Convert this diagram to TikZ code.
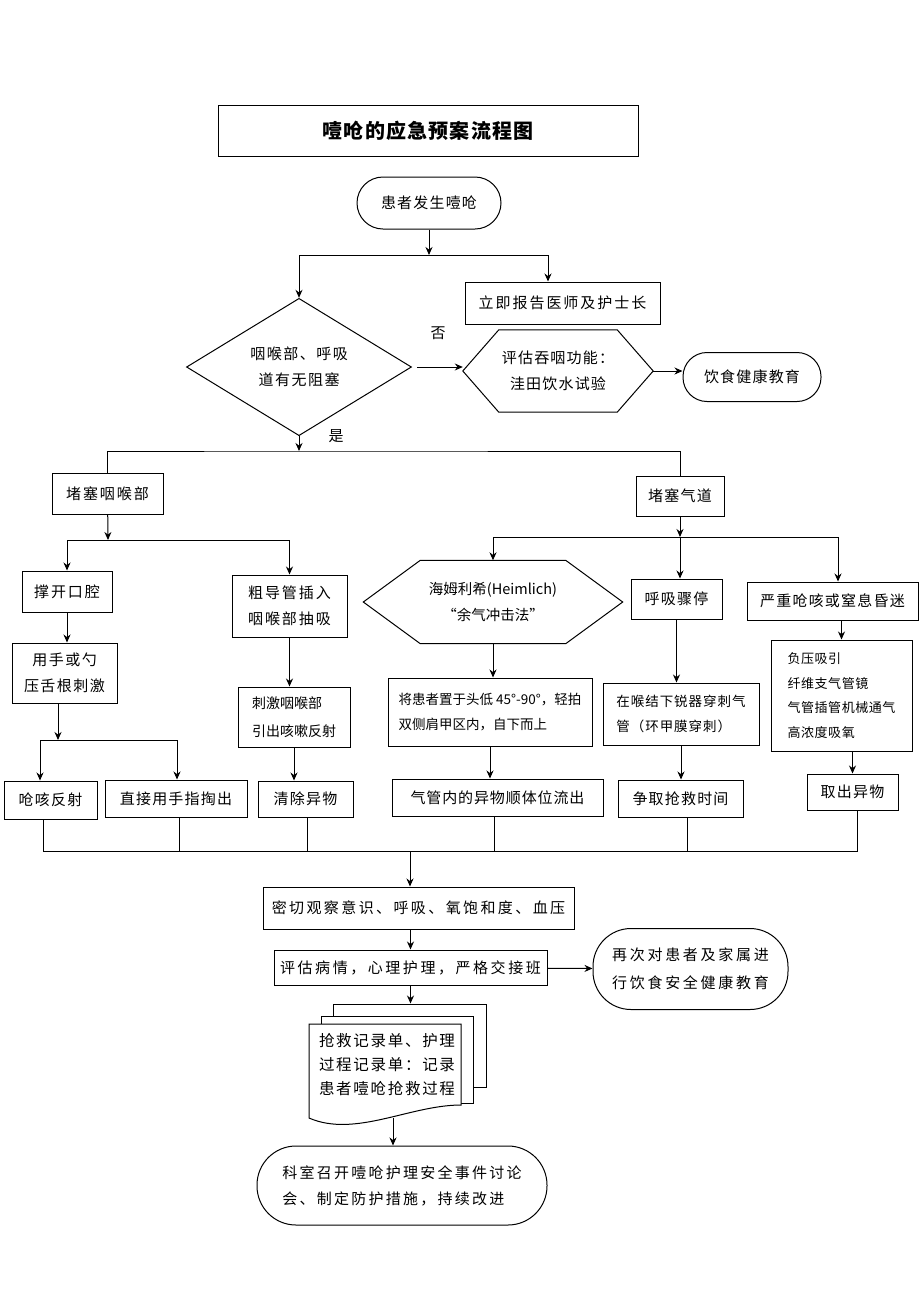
\documentclass[tikz,border=0pt]{standalone}
\usepackage{fontspec}
\setmainfont{Noto Sans CJK SC}
\usepackage{tikz}
\usetikzlibrary{shapes.geometric, arrows.meta}
\newcommand{\bodyfont}[1]{\fontsize{15}{26}\selectfont\addfontfeature{LetterSpace=#1}}
\newcommand{\smallfont}[1]{\fontsize{13.5}{25}\selectfont\addfontfeature{LetterSpace=#1}}
\tikzstyle{startstop} = [rectangle, rounded corners=26pt, 
draw=black, 
line width=1pt,
align=center, 
inner sep=0pt]
\tikzstyle{process} = [rectangle, 
draw=black, 
line width=1pt,
align=center, 
inner sep=0pt]
\tikzstyle{decision} = [diamond, 
draw=black, 
line width=1pt,
align=center, 
inner sep=0pt]
\tikzstyle{prep} = [rectangle, align=center, inner sep=0pt] % text of a hexagon
\tikzstyle{line} = [line width=1pt]
\tikzstyle{arrow} = [line width=1pt,->,>={Stealth[length=8pt,width=7pt]}]

\begin{document}
\begin{tikzpicture}[x=1pt, y=-1pt, font=\bodyfont{8}]
\useasboundingbox (0,0) rectangle (920,1302);

\node (title) [process, minimum width=420pt, minimum height=51pt, font=\fontsize{20}{24}\selectfont\bfseries\addfontfeature{LetterSpace=6}] at (428,131) {噎呛的应急预案流程图};
\node (start) [startstop, minimum width=144pt, minimum height=52pt] at (429,203) {患者发生噎呛};
\node (report) [process, minimum width=195pt, minimum height=42pt, font=\bodyfont{13}] at (562.5,303) {立即报告医师及护士长};
\node (check) [decision, minimum width=225pt, minimum height=114pt, font=\bodyfont{10}] at (299,367) {咽喉部、呼吸\\道有无阻塞};
\node (swallow) [prep, minimum width=190pt, minimum height=82pt] at (558,371) {评估吞咽功能：\\洼田饮水试验};
\draw [line] ([xshift=36pt]swallow.north west) -- ([xshift=-36pt]swallow.north east) -- (swallow.east)
  -- ([xshift=-36pt]swallow.south east) -- ([xshift=36pt]swallow.south west) -- (swallow.west) -- cycle;
\node (diet) [startstop, rounded corners=24pt, minimum width=138pt, minimum height=49pt] at (752,377) {饮食健康教育};
\node (no) at (438,333) {否};
\node (yes) at (336,436) {是};

% left branch
\node (throat) [process, minimum width=111pt, minimum height=41pt, font=\bodyfont{13}] at (107.5,494) {堵塞咽喉部};
\node (mouth) [process, minimum width=90pt, minimum height=41pt, font=\bodyfont{13}] at (67,591.5) {撑开口腔};
\node (tube) [process, minimum width=115pt, minimum height=62pt, font=\bodyfont{13}] at (289.5,606) {粗导管插入\\咽喉部抽吸};
\node (press) [process, minimum width=105pt, minimum height=60pt, font=\bodyfont{10}] at (64.5,673) {用手或勺\\压舌根刺激};
\node (stim) [process, minimum width=112pt, minimum height=60pt, align=left, font=\fontsize{14}{28}\selectfont] at (294,717) {刺激咽喉部\\引出咳嗽反射};
\node (cough) [process, minimum width=93pt, minimum height=38pt] at (50.5,800) {呛咳反射};
\node (finger) [process, minimum width=142pt, minimum height=37pt] at (176,798.5) {直接用手指掏出};
\node (clear) [process, minimum width=95pt, minimum height=36pt] at (305.5,799) {清除异物};

% right branch
\node (airway) [process, minimum width=88pt, minimum height=40pt] at (680,496) {堵塞气道};
\node (heim) [prep, minimum width=259pt, minimum height=83pt, font=\fontsize{14.5}{26}\selectfont] at (493,602) {海姆利希(Heimlich)\\“余气冲击法”};
\draw [line] ([xshift=57pt]heim.north west) -- ([xshift=-57pt]heim.north east) -- (heim.east)
  -- ([xshift=-57pt]heim.south east) -- ([xshift=57pt]heim.south west) -- (heim.west) -- cycle;
\node (arrest) [process, minimum width=91pt, minimum height=40pt] at (676.5,599) {呼吸骤停};
\node (severe) [process, minimum width=171pt, minimum height=38pt] at (832.5,601) {严重呛咳或窒息昏迷};
\node (lay) [process, minimum width=204pt, minimum height=68pt, align=left, font=\smallfont{0}] at (490,712) {将患者置于头低 45°-90°，轻拍\\双侧肩甲区内，自下而上};
\node (puncture) [process, minimum width=156pt, minimum height=62pt, align=left, font=\smallfont{7}] at (681,714) {在喉结下锐器穿刺气\\管（环甲膜穿刺）};
\node (list) [process, minimum width=141pt, minimum height=111pt, align=left, font=\fontsize{13}{24.5}\selectfont\addfontfeature{LetterSpace=4}] at (841.5,695.5) {负压吸引\\纤维支气管镜\\气管插管机械通气\\高浓度吸氧};
\node (flow) [process, minimum width=211pt, minimum height=37pt, font=\bodyfont{6}] at (497.5,797.5) {气管内的异物顺体位流出};
\node (rescue) [process, minimum width=125pt, minimum height=37pt] at (680.5,798.5) {争取抢救时间};
\node (takeout) [process, minimum width=91pt, minimum height=36pt] at (852.5,792) {取出异物};

% lower part
\node (observe) [process, minimum width=311pt, minimum height=42pt, font=\bodyfont{16}] at (418.5,908) {密切观察意识、呼吸、氧饱和度、血压};
\node (assess) [process, minimum width=273pt, minimum height=35pt, font=\bodyfont{17}] at (410.5,967.5) {评估病情，心理护理，严格交接班};
\node (edu) [startstop, rounded corners=38pt, minimum width=195pt, minimum height=81pt, font=\fontsize{15}{28}\selectfont\addfontfeature{LetterSpace=18}] at (690.5,969) {再次对患者及家属进\\行饮食安全健康教育};
\node (docback) [process, fill=white, minimum width=153pt, minimum height=83pt] at (409.5,1045.5) {};
\node (docmid) [process, fill=white, minimum width=152pt, minimum height=87pt] at (397,1059.5) {};
\draw [line, fill=white] (309,1024) -- (461,1024) -- (461,1105) .. controls (410,1105) and (355,1138) .. (309,1118) -- cycle;
\node (record) [align=left, font=\fontsize{15.5}{24}\selectfont\addfontfeature{LetterSpace=11}] at (387,1065) {抢救记录单、护理\\过程记录单：记录\\患者噎呛抢救过程};
\node (meeting) [startstop, rounded corners=39pt, minimum width=290pt, minimum height=79pt, align=left, font=\fontsize{15}{26}\selectfont\addfontfeature{LetterSpace=15}] at (402,1185.5) {科室召开噎呛护理安全事件讨论\\会、制定防护措施，持续改进};

% connectors
\coordinate (fork1) at (429,255);
\coordinate (fork1r) at (548,255);
\coordinate (fork2) at (299,451);
\coordinate (fork3) at (108,540);
\coordinate (fork4) at (58,740);
\coordinate (fork4l) at (40,740);
\coordinate (fork4r) at (177,740);
\coordinate (fork5) at (680,537);
\coordinate (fork5r) at (838,537);
\coordinate (join) at (410,851);
\coordinate (wave) at (393,1118);

\draw [arrow] (start) -- (fork1);
\draw [line] (check.north |- fork1) -- (fork1r);
\draw [arrow] (check.north |- fork1) -- (check);
\draw [arrow] (fork1r) -- (fork1r |- report.north);
\draw [arrow, shorten <=5pt] (check.east) -- (check.east -| swallow.west);
\draw [arrow] (swallow.east) -- (swallow.east -| diet.west);
\draw [arrow] (check) -- (fork2);
\draw [line] (throat) |- (fork2) -| (airway);

\draw [arrow] (throat) -- (fork3);
\draw [line] (mouth |- fork3) -- (tube |- fork3);
\draw [arrow] (mouth |- fork3) -- (mouth);
\draw [arrow] (tube |- fork3) -- (tube);
\draw [arrow] (mouth) -- (mouth |- press.north);
\draw [arrow] (press.south -| fork4) -- (fork4);
\draw [line] (fork4l) -- (fork4r);
\draw [arrow] (fork4l) -- (fork4l |- cough.north);
\draw [arrow] (fork4r) -- (fork4r |- finger.north);
\draw [arrow] (tube.south) -- (tube.south |- stim.north);
\draw [arrow] (stim.south) -- (stim.south |- clear.north);

\draw [arrow] (airway) -- (fork5);
\draw [line] (heim |- fork5) -- (fork5r);
\draw [arrow] (heim |- fork5) -- (heim);
\draw [arrow] (fork5) -- (fork5 |- arrest.north);
\draw [arrow] (fork5r) -- (fork5r |- severe.north);
\draw [arrow] (heim) -- (heim |- lay.north);
\draw [arrow] (lay) -- (lay |- flow.north);
\draw [arrow] (arrest) -- (arrest |- puncture.north);
\draw [arrow] (puncture) -- (puncture |- rescue.north);
\draw [arrow] (list |- severe.south) -- (list);
\draw [arrow] (takeout |- list.south) -- (takeout);

\foreach \n/\dx in {cough/-7, finger/3, clear/2, flow/-3, rescue/7, takeout/5}
  \draw [line] ([xshift=\dx pt]\n.south) |- (join);
\draw [arrow] (join) -- (join |- observe.north);
\draw [arrow] (assess |- observe.south) -- (assess);
\draw [arrow] (assess) -- (edu);
\draw [arrow] (assess.south) -- (assess.south |- docback.north);
\draw [arrow] (wave) -- (wave |- meeting.north);

\end{tikzpicture}
\end{document}
